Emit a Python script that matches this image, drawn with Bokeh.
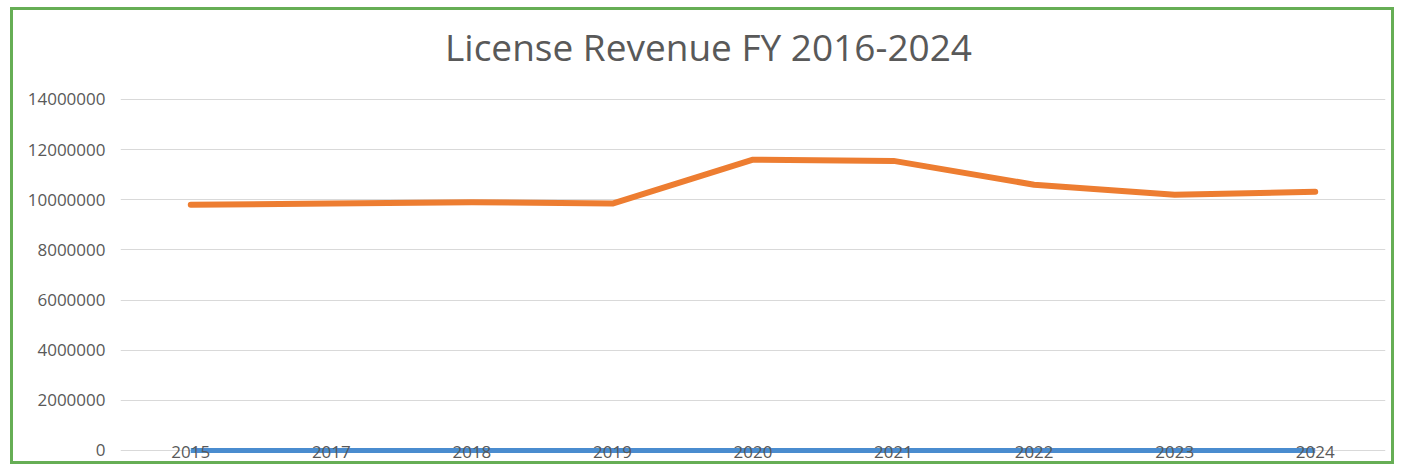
from bokeh.plotting import figure
from bokeh.models import FixedTicker, BasicTickFormatter, Range1d, Label
from bokeh.core.properties import value
from bokeh.embed import file_html
from bokeh.resources import INLINE

title_text = "License Revenue FY 2016-2024"
years = ["2015", "2017", "2018", "2019", "2020", "2021", "2022", "2023", "2024"]
license_revenue = [9800000, 9850000, 9900000, 9850000, 11600000, 11550000, 10600000, 10200000, 10320000]
other_series = [0, 0, 0, 0, 0, 0, 0, 0, 0]
y_ticks = [0, 2000000, 4000000, 6000000, 8000000, 10000000, 12000000, 14000000]

# the frame reaches up into the title area; grid/ticks stop at 14 000 000
p = figure(x_range=years, y_range=Range1d(-600000, 17150000),
           width=1384, height=457, output_backend="svg", toolbar_location=None,
           min_border_left=107, min_border_right=12, min_border_top=10, min_border_bottom=2,
           styles={"border": "3px solid #66ae55", "margin-left": "10px", "margin-top": "7px"})

# chart title, placed relative to the plot frame (screen units)
p.add_layout(Label(x=588, y=419, x_units="screen", y_units="screen", text=title_text,
                   text_align="center", text_baseline="alphabetic",
                   text_font="Open Sans", text_font_size="37px", text_color="#595959"))

p.outline_line_color = None
p.background_fill_color = "white"

p.yaxis.ticker = FixedTicker(ticks=y_ticks)
p.yaxis.formatter = BasicTickFormatter(use_scientific=False)
p.yaxis.axis_line_color = None
p.yaxis.major_tick_line_color = None
p.yaxis.minor_tick_line_color = None
p.yaxis.major_label_standoff = 9
p.yaxis.major_label_text_font = "Open Sans"
p.yaxis.major_label_text_font_size = "17px"
p.yaxis.major_label_text_color = "#595959"

# category labels sit on the zero line, as in the Excel chart
p.xaxis.visible = False

p.xgrid.grid_line_color = None
p.ygrid.ticker = FixedTicker(ticks=y_ticks)
p.ygrid.grid_line_color = "#d9d9d9"
p.ygrid.grid_line_width = 1

p.line(years, other_series, line_color="#4a8ccf", line_width=5)
p.line(years, license_revenue, line_color="#ed7d31", line_width=6, line_cap="round", line_join="round")

p.text(x=years, y=[y_ticks[0]] * len(years), text=years, text_align="center", text_baseline="middle",
       y_offset=2, text_font=value("Open Sans"), text_font_size="17px", text_color="#595959")

open("out.html", "w").write(file_html(p, INLINE))
